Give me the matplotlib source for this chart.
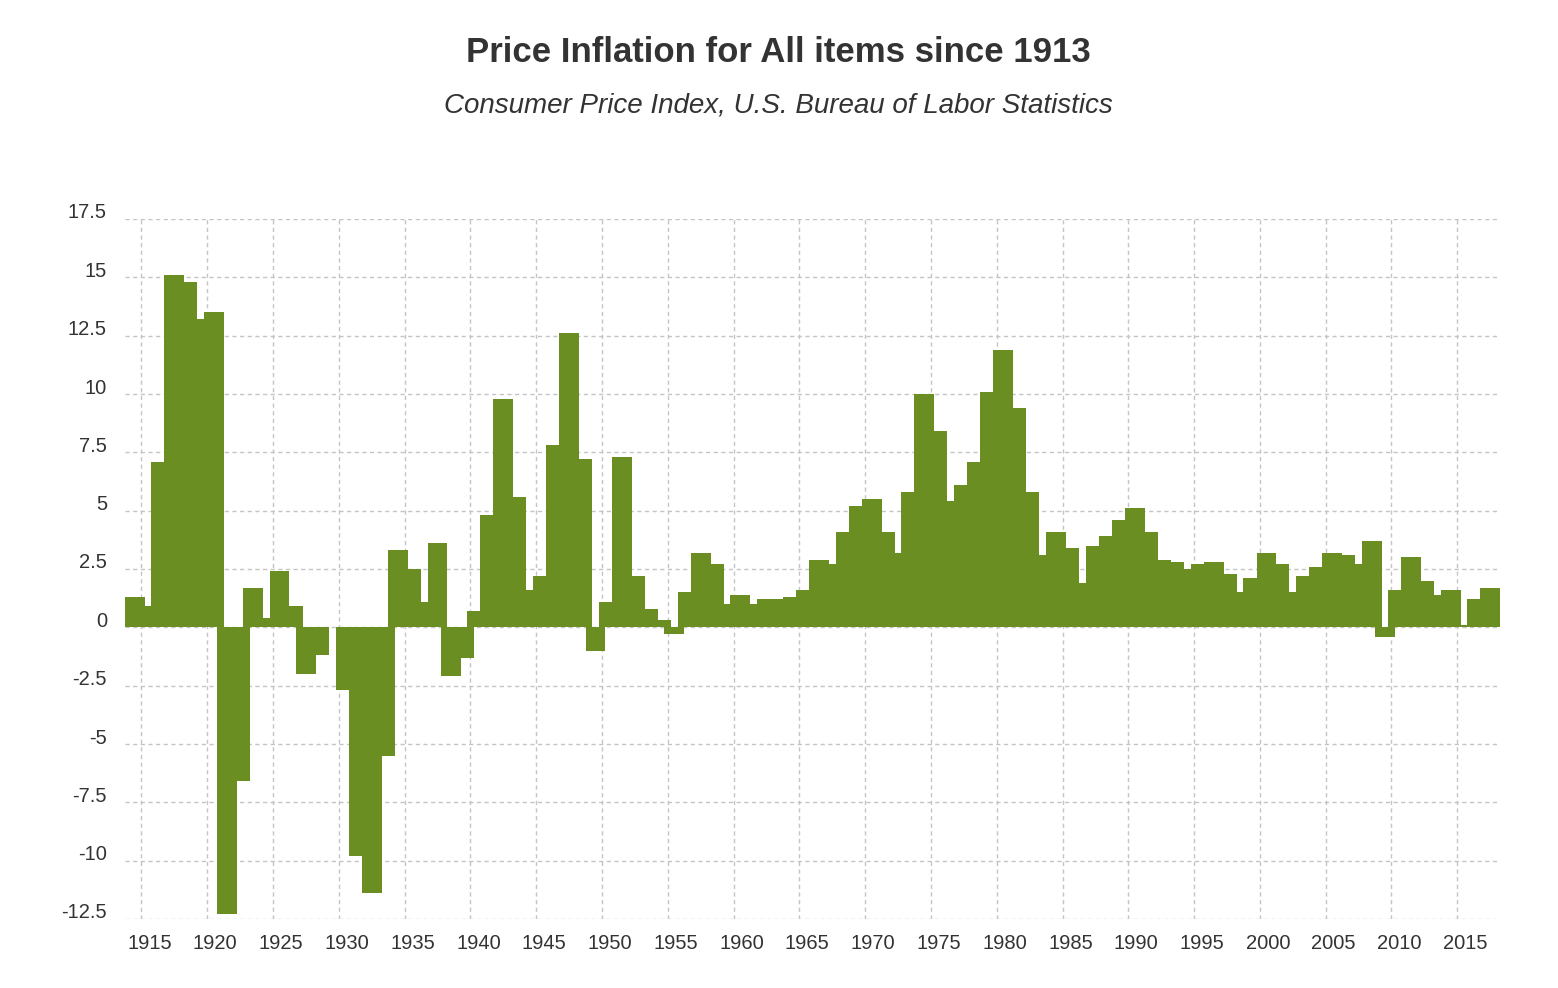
import numpy as np
import matplotlib
matplotlib.use("Agg")
import matplotlib.pyplot as plt
from matplotlib.transforms import ScaledTranslation

plt.rcParams['font.family'] = ['Liberation Sans', 'DejaVu Sans']
plt.rcParams['lines.scale_dashes'] = False

# yearly inflation (%)
years = np.arange(1914, 2018)
inflation = [
    1.3, 0.9, 7.1, 15.1, 14.8, 13.2, 13.5, -12.3, -6.6, 1.7,      # 1914-1923
    0.4, 2.4, 0.9, -2.0, -1.2, 0.0, -2.7, -9.8, -11.4, -5.5,      # 1924-1933
    3.3, 2.5, 1.1, 3.6, -2.1, -1.3, 0.7, 4.8, 9.8, 5.6,           # 1934-1943
    1.6, 2.2, 7.8, 12.6, 7.2, -1.0, 1.1, 7.3, 2.2, 0.8,           # 1944-1953
    0.3, -0.3, 1.5, 3.2, 2.7, 1.0, 1.4, 1.0, 1.2, 1.2,            # 1954-1963
    1.3, 1.6, 2.9, 2.7, 4.1, 5.2, 5.5, 4.1, 3.2, 5.8,             # 1964-1973
    10.0, 8.4, 5.4, 6.1, 7.1, 10.1, 11.9, 9.4, 5.8, 3.1,          # 1974-1983
    4.1, 3.4, 1.9, 3.5, 3.9, 4.6, 5.1, 4.1, 2.9, 2.8,             # 1984-1993
    2.5, 2.7, 2.8, 2.3, 1.5, 2.1, 3.2, 2.7, 1.5, 2.2,             # 1994-2003
    2.6, 3.2, 3.1, 2.7, 3.7, -0.4, 1.6, 3.0, 2.0, 1.4,            # 2004-2013
    1.6, 0.1, 1.2, 1.7,                                           # 2014-2017
]

x_ticks = list(range(1915, 2016, 5))
y_ticks = [-12.5, -10, -7.5, -5, -2.5, 0, 2.5, 5, 7.5, 10, 12.5, 15, 17.5]
y_labels = ['-12.5', '-10', '-7.5', '-5', '-2.5', '0', '2.5', '5', '7.5',
            '10', '12.5', '15', '17.5']

text_color = '#333333'
bar_color = '#6b8e23'
grid_color = '#c4c4c8'

fig = plt.figure(figsize=(15.58, 9.88), dpi=100)
ax = fig.add_axes([125 / 1558, 1 - 919 / 988, 1375 / 1558, 700 / 988])

# wide overlapping bars, centred mid-year, like the original renderer
ax.bar(years + 0.5, inflation, width=1.5, color=bar_color, linewidth=0)

ax.set_xlim(1913.75, 2018.25)
ax.set_ylim(-12.5, 17.5)
ax.set_xticks(x_ticks)
ax.set_xticklabels([str(y) for y in x_ticks])
ax.set_yticks(y_ticks)
ax.set_yticklabels(y_labels)

ax.set_axisbelow(True)
ax.grid(True, color=grid_color, linewidth=1.0, linestyle=(0, (3, 2.5)))
for s in ax.spines.values():
    s.set_visible(False)
ax.tick_params(axis='both', length=0, labelsize=14.5, labelcolor=text_color)
ax.tick_params(axis='y', pad=13)
ax.tick_params(axis='x', pad=10.5)

# shift labels like the reference: y labels sit a bit above their line,
# x labels a bit right of theirs
for lab in ax.get_yticklabels():
    lab.set_transform(lab.get_transform() + ScaledTranslation(0, 8 / 100, fig.dpi_scale_trans))
for lab in ax.get_xticklabels():
    lab.set_transform(lab.get_transform() + ScaledTranslation(8 / 100, 0, fig.dpi_scale_trans))

fig.text(778 / 1558, 1 - 53 / 988, "Price Inflation for All items since 1913",
         ha='center', va='center', fontsize=25, fontweight='bold', color=text_color)
fig.text(778 / 1558, 1 - 106 / 988, "Consumer Price Index, U.S. Bureau of Labor Statistics",
         ha='center', va='center', fontsize=20, fontstyle='italic', color=text_color)

fig.savefig("out.png", dpi=100)
